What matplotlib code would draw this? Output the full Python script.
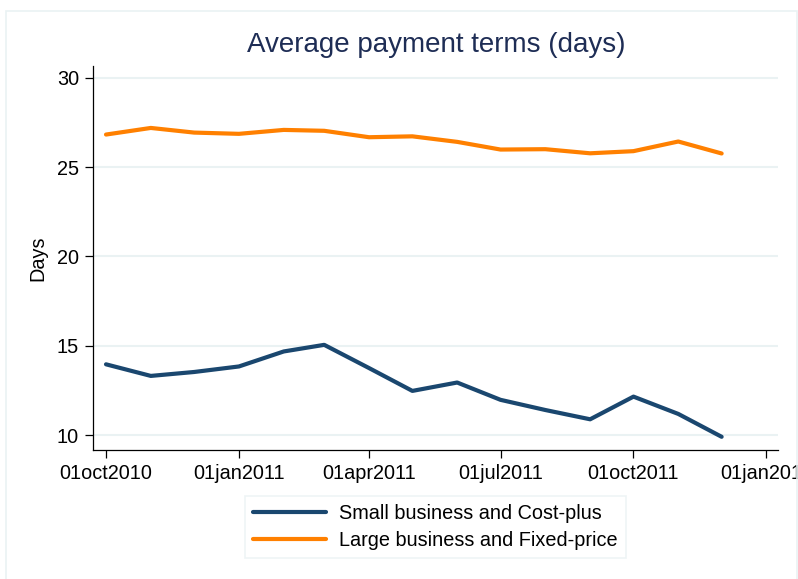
import datetime as dt
import matplotlib
matplotlib.use('Agg')
import matplotlib.pyplot as plt
from matplotlib.patches import Rectangle

plt.rcParams['font.family'] = ['Liberation Sans', 'DejaVu Sans']

# 月度数据 (2010年10月 - 2011年12月)
months = ['2010-10', '2010-11', '2010-12', '2011-01', '2011-02', '2011-03', '2011-04',
          '2011-05', '2011-06', '2011-07', '2011-08', '2011-09', '2011-10', '2011-11', '2011-12']
small_cost_plus = [13.96, 13.31, 13.53, 13.84, 14.68, 15.05, 13.75, 12.47, 12.94,
                   11.97, 11.40, 10.88, 12.15, 11.18, 9.90]
large_fixed_price = [26.83, 27.20, 26.94, 26.87, 27.09, 27.04, 26.68, 26.73, 26.42,
                     25.99, 26.01, 25.78, 25.90, 26.44, 25.77]
tick_dates = ['2010-10-01', '2011-01-01', '2011-04-01', '2011-07-01', '2011-10-01', '2012-01-01']
tick_labels = ['01oct2010', '01jan2011', '01apr2011', '01jul2011', '01oct2011', '01jan2012']

dates = [dt.datetime.strptime(m + '-01', '%Y-%m-%d') for m in months]
ticks = [dt.datetime.strptime(t, '%Y-%m-%d') for t in tick_dates]

navy = '#1a476f'
orange = '#ff8000'
grid_c = '#eaf2f3'

fig = plt.figure(figsize=(7.98, 5.79), dpi=100)
fig.patches.append(Rectangle((6 / 798, -0.01), 791 / 798, 1 - 11 / 579 + 0.01,
                             transform=fig.transFigure, fill=False,
                             edgecolor=grid_c, linewidth=1.2, zorder=0))

ax = fig.add_axes([93 / 798, 1 - 450 / 579, (778 - 93) / 798, (450 - 66) / 579])

ax.plot(dates, small_cost_plus, color=navy, linewidth=3, label='Small business and Cost-plus',
        solid_joinstyle='round', solid_capstyle='round', zorder=3)
ax.plot(dates, large_fixed_price, color=orange, linewidth=3, label='Large business and Fixed-price',
        solid_joinstyle='round', solid_capstyle='round', zorder=3)

ax.set_xlim(dt.datetime(2010, 9, 22), dt.datetime(2012, 1, 9))
ax.set_ylim(9.16, 30.67)
ax.set_yticks([10, 15, 20, 25, 30])
ax.set_xticks(ticks)
ax.set_xticklabels(tick_labels)

ax.yaxis.grid(True, color=grid_c, linewidth=1.5)
ax.set_axisbelow(True)
for s in ['top', 'right']:
    ax.spines[s].set_visible(False)
for s in ['left', 'bottom']:
    ax.spines[s].set_linewidth(0.9)
ax.tick_params(axis='both', length=6, width=0.9, labelsize=14.3, pad=4)

ax.set_ylabel('Days', fontsize=14.3, labelpad=7)
fig.text(436 / 798, 1 - 45 / 579, 'Average payment terms (days)', ha='center', va='center',
         fontsize=20, color='#1e2d55')

leg = fig.legend(loc='center', bbox_to_anchor=(435.5 / 798, 1 - 527 / 579), frameon=True,
                 fontsize=14.3, handlelength=3.7, handletextpad=0.65, borderpad=0.4,
                 labelspacing=0.42, fancybox=False, borderaxespad=0)
leg.get_frame().set_edgecolor(grid_c)
leg.get_frame().set_linewidth(1.2)

fig.savefig('out.png', dpi=100, facecolor='white')
